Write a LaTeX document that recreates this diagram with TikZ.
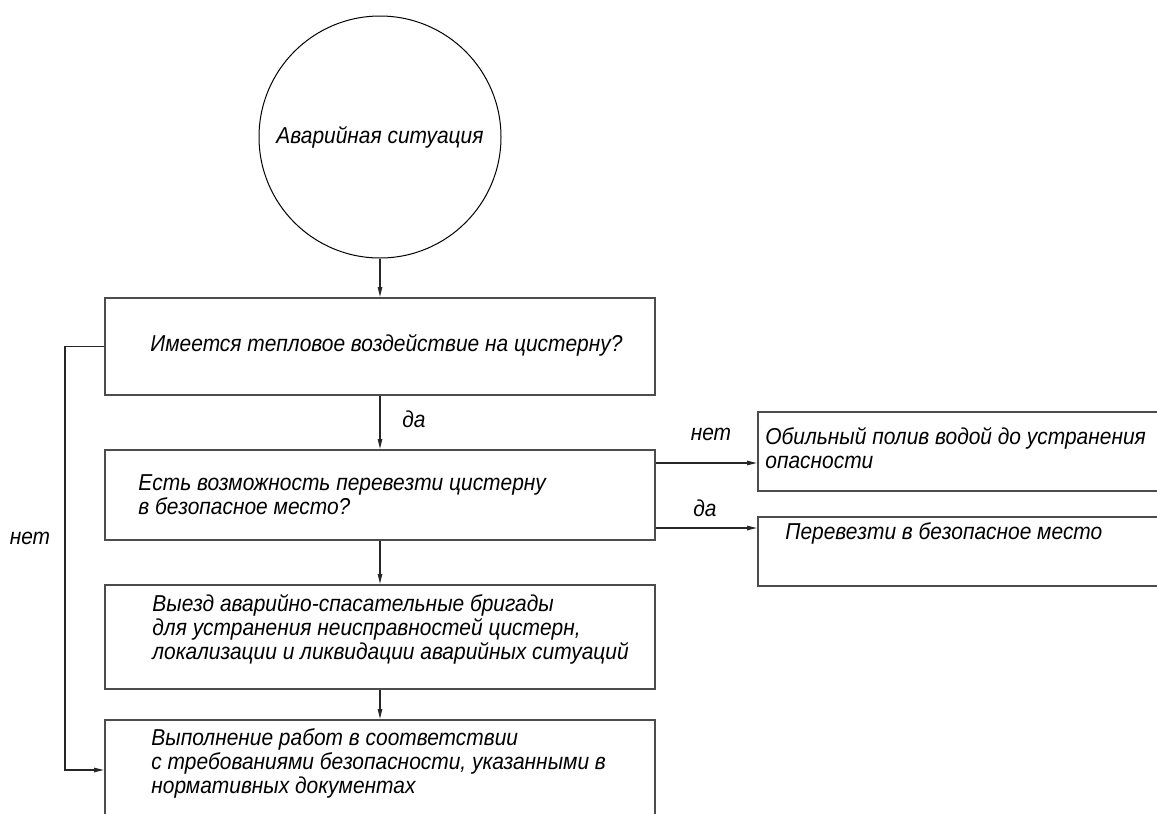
\documentclass[tikz,border=0pt]{standalone}
\usepackage{fontspec}
\setmainfont{Liberation Sans}[FakeStretch=0.91]
\usetikzlibrary{arrows.meta}
\newcommand{\flowfont}{\itshape\fontsize{11.5}{12}\selectfont}
\tikzset{
  blk/.style={rectangle, draw=black!70, line width=1pt, inner sep=0pt, minimum width=275pt},
  txt/.style={anchor=west, align=left, inner sep=0pt, font=\flowfont},
  lbl/.style={inner sep=0pt, font=\flowfont},
  arr/.style={draw=black!85, line width=0.75pt, -{Triangle[length=5pt,width=2.2pt]}}
}

\begin{document}
\begin{tikzpicture}[x=0.5pt,y=-0.5pt]
\useasboundingbox (0,0) rectangle (1157,814);
\clip (0,0) rectangle (1157,814);

\node[circle, draw, line width=0.5pt, minimum size=121pt, inner sep=0pt, font=\flowfont] (c) at (380,137) {Аварийная ситуация};
\node[blk, minimum height=48.5pt] (q1) at (380,346.5) {};
\node[blk, minimum height=45pt] (q2) at (380,495) {};
\node[blk, minimum height=52pt] (q3) at (380,637) {};
\node[blk, minimum height=65pt] (q4) at (380,785) {};
\node[blk, minimum width=221pt, minimum height=39.5pt] (r1) at (979,451.5) {};
\node[blk, minimum width=221pt, minimum height=34.5pt] (r2) at (979,551.5) {};

\node[txt] (q1t) at (150,345) {Имеется тепловое воздействие на цистерну?};
\node[txt] (q2t) at (138,494.5) {Есть возможность перевезти цистерну\\в безопасное место?};
\node[txt] (q3t) at (152,629) {Выезд аварийно-спасательные бригады\\для устранения неисправностей цистерн,\\локализации и ликвидации аварийных ситуаций};
\node[txt] (q4t) at (151,763) {Выполнение работ в соответствии\\с требованиями безопасности, указанными в\\нормативных документах};
\node[txt] (r1t) at (765,448) {Обильный полив водой до устранения\\опасности};
\node[txt] (r2t) at (785,533) {Перевезти в безопасное место};

\node[lbl] (l1) at (414,419) {да};
\node[lbl] (l2) at (711,434) {нет};
\node[lbl] (l3) at (705,508) {да};
\node[lbl] (l4) at (30,538) {нет};

\coordinate (s1) at ([yshift=16pt]q2.east);
\coordinate (s2) at ([yshift=-16.5pt]q2.east);
\coordinate (b1) at (65,346.5);
\coordinate (b2) at ([yshift=7.5pt]q4.west);

\draw[arr] (c) -- (q1);
\draw[arr] (q1) -- (q2);
\draw[arr] (q2) -- (q3);
\draw[arr] (q3) -- (q4);
\draw[arr] (s1) -- (s1 -| r1.west);
\draw[arr] (s2) -- (s2 -| r2.west);
\draw[arr] (q1.west) -- (b1) |- (b2);
\end{tikzpicture}
\end{document}
